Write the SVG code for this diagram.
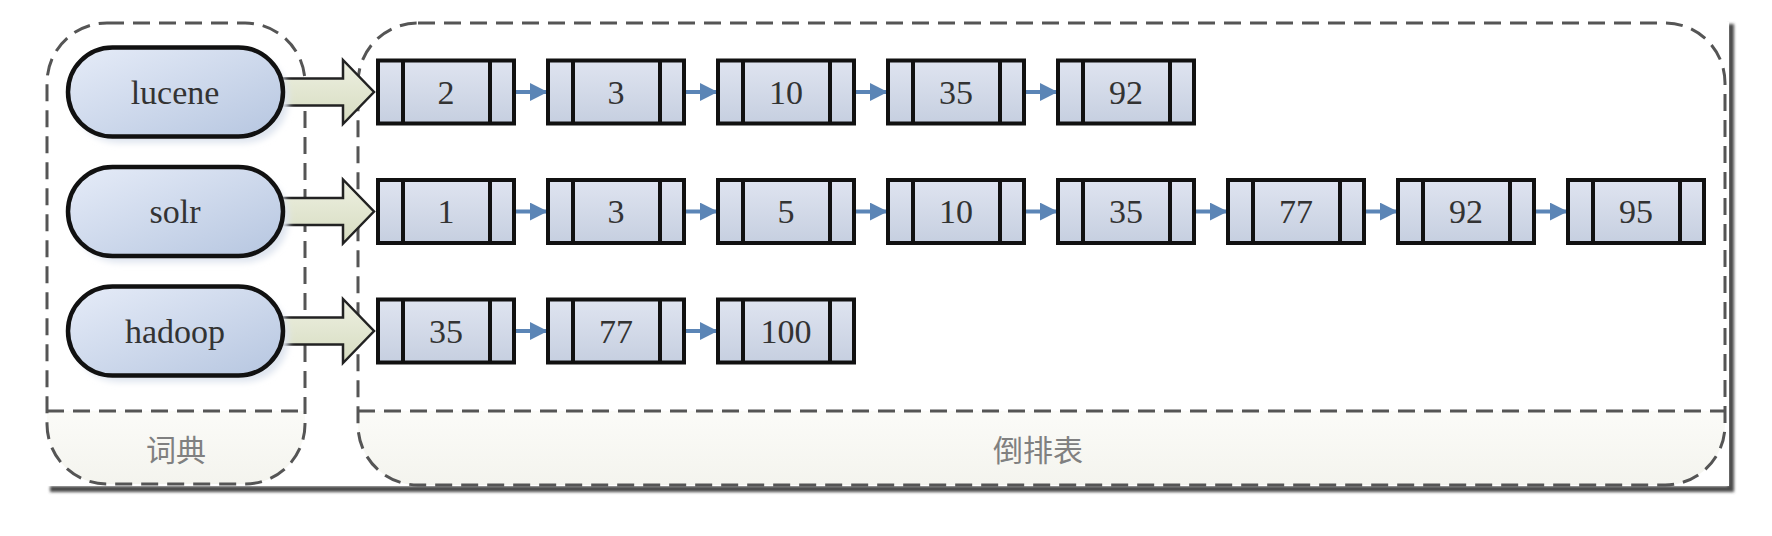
<svg xmlns="http://www.w3.org/2000/svg" width="1772" height="536" viewBox="0 0 1772 536">
<defs>
<linearGradient id="pillG" x1="0" y1="0" x2="1" y2="1">
<stop offset="0" stop-color="#e6ecf8"/>
<stop offset="1" stop-color="#b6c6e0"/>
</linearGradient>
<linearGradient id="boxG" x1="0" y1="0" x2="0" y2="1">
<stop offset="0" stop-color="#dfe4f0"/>
<stop offset="1" stop-color="#c6cfe0"/>
</linearGradient>
<linearGradient id="fatG" x1="0" y1="0" x2="0" y2="1">
<stop offset="0" stop-color="#eef0e2"/>
<stop offset="1" stop-color="#d6dcc0"/>
</linearGradient>
<linearGradient id="lowG" x1="0" y1="0" x2="0" y2="1">
<stop offset="0" stop-color="#fbfbf8"/>
<stop offset="1" stop-color="#f4f4ee"/>
</linearGradient>
<filter id="blur" x="-5%" y="-5%" width="110%" height="110%"><feGaussianBlur stdDeviation="1.6"/></filter>
<filter id="soft" x="-10%" y="-20%" width="120%" height="140%"><feGaussianBlur stdDeviation="3"/></filter>
<marker id="ah" viewBox="0 0 10 10" refX="9" refY="5" markerWidth="4.5" markerHeight="4.5" markerUnits="strokeWidth" orient="auto">
<path d="M0,0 L10,5 L0,10 Z" fill="#5b85b6"/>
</marker>
<style>
.cont{fill:none;stroke:#555;stroke-width:3;stroke-dasharray:17 9}
.div{stroke:#555;stroke-width:3;stroke-dasharray:17 9}
.lower{fill:url(#lowG)}
.pill{fill:url(#pillG);stroke:#111;stroke-width:4.5}
.pshadow{fill:#dfe5ef;filter:url(#soft)}
.box{fill:url(#boxG);stroke:#111;stroke-width:4}
.bar{stroke:#111;stroke-width:4}
.fat{fill:url(#fatG);stroke:#222;stroke-width:2.5;stroke-linejoin:miter}
.link{stroke:#5b85b6;stroke-width:4;fill:none;marker-end:url(#ah)}
.t{font-family:"Liberation Serif","Times New Roman",serif;font-size:34px;fill:#333;text-anchor:middle;dominant-baseline:central}
.cap{font-family:"Noto Sans CJK SC","Noto Sans",sans-serif;font-size:30px;fill:#808080;text-anchor:middle;dominant-baseline:central}
</style>
</defs>
<rect width="1772" height="536" fill="#ffffff"/>
<g id="frame">
<path d="M1731,24 L1731,489 L50,489" fill="none" stroke="#4a4a4a" stroke-width="6" filter="url(#blur)"/>
<rect x="46" y="22" width="1683" height="464" fill="#ffffff"/>
</g>
<g id="dict">
<path class="lower" d="M47,411 L305,411 L305,424 A60,60 0 0 1 245,484 L107,484 A60,60 0 0 1 47,424 Z"/>
<rect class="cont" x="47" y="23" width="258" height="461" rx="60" ry="60"/>
<line class="div" x1="47" y1="411" x2="305" y2="411"/>
<text class="cap" x="176" y="448">词典</text>
</g>
<g id="postings">
<path class="lower" d="M358,411 L1725,411 L1725,425 A60,60 0 0 1 1665,485 L418,485 A60,60 0 0 1 358,425 Z"/>
<rect class="cont" x="358" y="23" width="1367" height="462" rx="60" ry="60"/>
<line class="div" x1="358" y1="411" x2="1725" y2="411"/>
<text class="cap" x="1038" y="448">倒排表</text>
</g>
<g id="connectors">
<path class="fat" d="M270,78.5 L343,78.5 L343,60 L374,92 L343,124 L343,105.5 L270,105.5 Z"/>
<path class="fat" d="M270,198 L343,198 L343,179.5 L374,211.5 L343,243.5 L343,225 L270,225 Z"/>
<path class="fat" d="M270,317.5 L343,317.5 L343,299 L374,331 L343,363 L343,344.5 L270,344.5 Z"/>
<line class="link" x1="516" y1="92" x2="546" y2="92"/>
<line class="link" x1="686" y1="92" x2="716" y2="92"/>
<line class="link" x1="856" y1="92" x2="886" y2="92"/>
<line class="link" x1="1026" y1="92" x2="1056" y2="92"/>
<line class="link" x1="516" y1="211.5" x2="546" y2="211.5"/>
<line class="link" x1="686" y1="211.5" x2="716" y2="211.5"/>
<line class="link" x1="856" y1="211.5" x2="886" y2="211.5"/>
<line class="link" x1="1026" y1="211.5" x2="1056" y2="211.5"/>
<line class="link" x1="1196" y1="211.5" x2="1226" y2="211.5"/>
<line class="link" x1="1366" y1="211.5" x2="1396" y2="211.5"/>
<line class="link" x1="1536" y1="211.5" x2="1566" y2="211.5"/>
<line class="link" x1="516" y1="331" x2="546" y2="331"/>
<line class="link" x1="686" y1="331" x2="716" y2="331"/>
</g>
<g id="term-lucene">
<rect class="pshadow" x="74" y="54" width="215" height="89" rx="44.5"/>
<rect class="pill" x="68" y="47.5" width="215" height="89" rx="44.5"/>
<text class="t" x="175" y="92">lucene</text>
</g>
<g id="term-solr">
<rect class="pshadow" x="74" y="173.5" width="215" height="89" rx="44.5"/>
<rect class="pill" x="68" y="167" width="215" height="89" rx="44.5"/>
<text class="t" x="175" y="211.5">solr</text>
</g>
<g id="term-hadoop">
<rect class="pshadow" x="74" y="293" width="215" height="89" rx="44.5"/>
<rect class="pill" x="68" y="286.5" width="215" height="89" rx="44.5"/>
<text class="t" x="175" y="331">hadoop</text>
</g>
<g id="lucene-2"><rect class="box" x="378" y="60.5" width="136" height="63"/><line class="bar" x1="403" y1="60.5" x2="403" y2="123.5"/><line class="bar" x1="490" y1="60.5" x2="490" y2="123.5"/><text class="t" x="446" y="92">2</text></g>
<g id="lucene-3"><rect class="box" x="548" y="60.5" width="136" height="63"/><line class="bar" x1="573" y1="60.5" x2="573" y2="123.5"/><line class="bar" x1="660" y1="60.5" x2="660" y2="123.5"/><text class="t" x="616" y="92">3</text></g>
<g id="lucene-10"><rect class="box" x="718" y="60.5" width="136" height="63"/><line class="bar" x1="743" y1="60.5" x2="743" y2="123.5"/><line class="bar" x1="830" y1="60.5" x2="830" y2="123.5"/><text class="t" x="786" y="92">10</text></g>
<g id="lucene-35"><rect class="box" x="888" y="60.5" width="136" height="63"/><line class="bar" x1="913" y1="60.5" x2="913" y2="123.5"/><line class="bar" x1="1000" y1="60.5" x2="1000" y2="123.5"/><text class="t" x="956" y="92">35</text></g>
<g id="lucene-92"><rect class="box" x="1058" y="60.5" width="136" height="63"/><line class="bar" x1="1083" y1="60.5" x2="1083" y2="123.5"/><line class="bar" x1="1170" y1="60.5" x2="1170" y2="123.5"/><text class="t" x="1126" y="92">92</text></g>
<g id="solr-1"><rect class="box" x="378" y="180" width="136" height="63"/><line class="bar" x1="403" y1="180" x2="403" y2="243"/><line class="bar" x1="490" y1="180" x2="490" y2="243"/><text class="t" x="446" y="211.5">1</text></g>
<g id="solr-3"><rect class="box" x="548" y="180" width="136" height="63"/><line class="bar" x1="573" y1="180" x2="573" y2="243"/><line class="bar" x1="660" y1="180" x2="660" y2="243"/><text class="t" x="616" y="211.5">3</text></g>
<g id="solr-5"><rect class="box" x="718" y="180" width="136" height="63"/><line class="bar" x1="743" y1="180" x2="743" y2="243"/><line class="bar" x1="830" y1="180" x2="830" y2="243"/><text class="t" x="786" y="211.5">5</text></g>
<g id="solr-10"><rect class="box" x="888" y="180" width="136" height="63"/><line class="bar" x1="913" y1="180" x2="913" y2="243"/><line class="bar" x1="1000" y1="180" x2="1000" y2="243"/><text class="t" x="956" y="211.5">10</text></g>
<g id="solr-35"><rect class="box" x="1058" y="180" width="136" height="63"/><line class="bar" x1="1083" y1="180" x2="1083" y2="243"/><line class="bar" x1="1170" y1="180" x2="1170" y2="243"/><text class="t" x="1126" y="211.5">35</text></g>
<g id="solr-77"><rect class="box" x="1228" y="180" width="136" height="63"/><line class="bar" x1="1253" y1="180" x2="1253" y2="243"/><line class="bar" x1="1340" y1="180" x2="1340" y2="243"/><text class="t" x="1296" y="211.5">77</text></g>
<g id="solr-92"><rect class="box" x="1398" y="180" width="136" height="63"/><line class="bar" x1="1423" y1="180" x2="1423" y2="243"/><line class="bar" x1="1510" y1="180" x2="1510" y2="243"/><text class="t" x="1466" y="211.5">92</text></g>
<g id="solr-95"><rect class="box" x="1568" y="180" width="136" height="63"/><line class="bar" x1="1593" y1="180" x2="1593" y2="243"/><line class="bar" x1="1680" y1="180" x2="1680" y2="243"/><text class="t" x="1636" y="211.5">95</text></g>
<g id="hadoop-35"><rect class="box" x="378" y="299.5" width="136" height="63"/><line class="bar" x1="403" y1="299.5" x2="403" y2="362.5"/><line class="bar" x1="490" y1="299.5" x2="490" y2="362.5"/><text class="t" x="446" y="331">35</text></g>
<g id="hadoop-77"><rect class="box" x="548" y="299.5" width="136" height="63"/><line class="bar" x1="573" y1="299.5" x2="573" y2="362.5"/><line class="bar" x1="660" y1="299.5" x2="660" y2="362.5"/><text class="t" x="616" y="331">77</text></g>
<g id="hadoop-100"><rect class="box" x="718" y="299.5" width="136" height="63"/><line class="bar" x1="743" y1="299.5" x2="743" y2="362.5"/><line class="bar" x1="830" y1="299.5" x2="830" y2="362.5"/><text class="t" x="786" y="331">100</text></g>
</svg>
